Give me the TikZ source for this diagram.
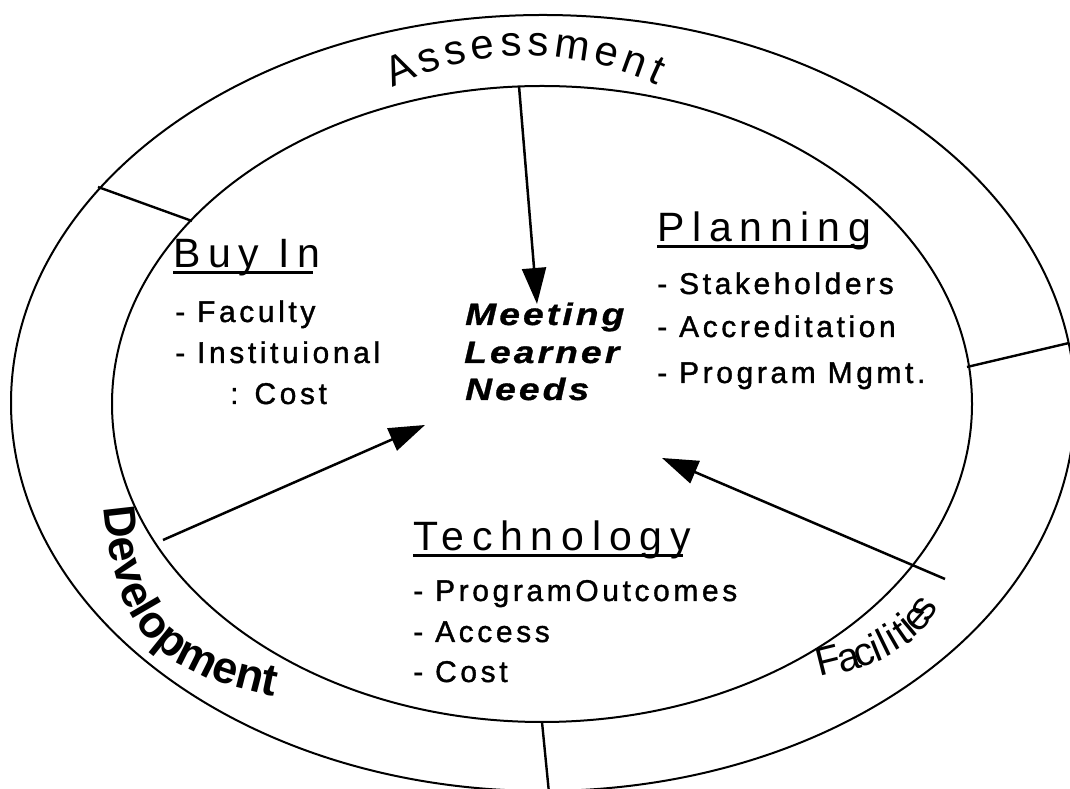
\documentclass[tikz,border=0pt]{standalone}
\usepackage{fontspec}
\setmainfont{Liberation Sans}
\newfontfamily\headfont[LetterSpace=19]{Liberation Sans}
\newfontfamily\itemfont[LetterSpace=12,FakeBold=1.2]{Liberation Sans}
\newfontfamily\hubfont[LetterSpace=10,FakeStretch=1.2,FakeBold=1]{Liberation Sans}
\newcommand{\devfont}{\bfseries\fontsize{45}{45}\selectfont}
\usetikzlibrary{arrows.meta,decorations.text}

\begin{document}
\begin{tikzpicture}[x=1pt,y=1pt,
  ring/.style={line width=2pt},
  divider/.style={line width=2.4pt},
  feed/.style={line width=2.5pt,-{Triangle[length=36pt,width=24pt]}},
  head/.style={anchor=base west,inner sep=0pt,font=\headfont\fontsize{41}{41}\selectfont},
  item/.style={anchor=base west,inner sep=0pt,font=\itemfont\fontsize{30}{30}\selectfont},
  hub/.style={anchor=base west,inner sep=0pt,font=\hubfont\bfseries\itshape\fontsize{31}{31}\selectfont},
  bandA/.style={inner sep=0pt,anchor=base,font=\fontsize{42}{42}\selectfont},
  bandC/.style={inner sep=0pt,text height=20pt,text depth=0pt,font=\fontsize{40}{40}\selectfont},
  uline/.style={line width=3pt}]
\useasboundingbox (0,0) rectangle (1070,789);
\clip (0,0) rectangle (1070,789);

% the two rings
\draw[ring] (543,386) ellipse [x radius=532pt,y radius=388pt];
\draw[ring] (542,385) ellipse [x radius=430pt,y radius=318pt];

% cuts across the outer band
\coordinate (cutA1) at (98,602);
\coordinate (cutA2) at (192,568);
\coordinate (cutB1) at (967,422);
\coordinate (cutB2) at (1069,446);
\coordinate (cutC1) at (542,67);
\coordinate (cutC2) at (549,-4);
\draw[divider] (cutA1) -- (cutA2);
\draw[divider] (cutB1) -- (cutB2);
\draw[divider] (cutC1) -- (cutC2);

% Buy In
\node[head] (buyin) at (173,521) {Buy In};
\draw[uline] ([yshift=-4.5pt]buyin.base west) -- ([xshift=-8pt,yshift=-4.5pt]buyin.base east);
\node[item] (faculty) at (175,467) {- Faculty};
\node[item] (inst) at (175,426) {- Instituional};
\node[item] (instcost) at (230,385) {: Cost};

% Planning
\node[head] (planning) at (657,547) {Planning};
\draw[uline] ([yshift=-4.5pt]planning.base west) -- ([xshift=-8pt,yshift=-4.5pt]planning.base east);
\node[item] (stake) at (657,495) {- Stakeholders};
\node[item] (accred) at (657,452) {- Accreditation};
\node[item] (mgmt) at (657,406) {- Program Mgmt.};

% Technology
\node[head] (tech) at (413,238) {Technology};
\draw[uline] ([yshift=-4.5pt]tech.base west) -- ([xshift=-8pt,yshift=-4.5pt]tech.base east);
\node[item] (outcomes) at (413,188) {- ProgramOutcomes};
\node[item] (access) at (413,147) {- Access};
\node[item] (techcost) at (413,107) {- Cost};

% hub
\node[hub] (meeting) at (465,464) {Meeting};
\node[hub] (learner) at (464,426) {Learner};
\node[hub] (needs) at (465,389) {Needs};

% arrows into the hub
\coordinate (fromAss) at (519,703);
\coordinate (fromDev) at (163,249);
\coordinate (fromFac) at (945,210);
\coordinate (toTop) at (537,485);
\coordinate (toLeft) at (425,364);
\coordinate (toRight) at (662,331);
\draw[feed] (fromAss) -- (toTop);
\draw[feed] (fromDev) -- (toLeft);
\draw[feed] (fromFac) -- (toRight);

% band labels
\coordinate (asc) at (527,428);
\foreach \ch/\ang [count=\i] in {A/113.6,s/108.1,s/103.1,e/98.0,s/92.9,s/87.9,m/81.8,e/75.5,n/70.1,t/65.8}
  \node[bandA,rotate=\ang-90] (as\i) at ([shift={(\ang:305pt)}]asc) {\ch};
\coordinate (devstart) at (104,282);
\coordinate (devend) at (278,92);
\path[decorate,decoration={text along path,text align=left,
  text={|\devfont|Development}}]
  (devstart) .. controls (114,165) and (150,116) .. (devend);
\foreach \ch/\px/\py/\rot [count=\i] in {F/829/125/14,a/849/128/16,c/865/133/19,i/877/137/22,l/885/142/26,i/893/148/30,t/903/154/35,i/909/161/40,e/918/169/48,s/925/179/55}
  \node[bandC,rotate=\rot] (fac\i) at (\px,\py) {\ch};
\end{tikzpicture}
\end{document}
